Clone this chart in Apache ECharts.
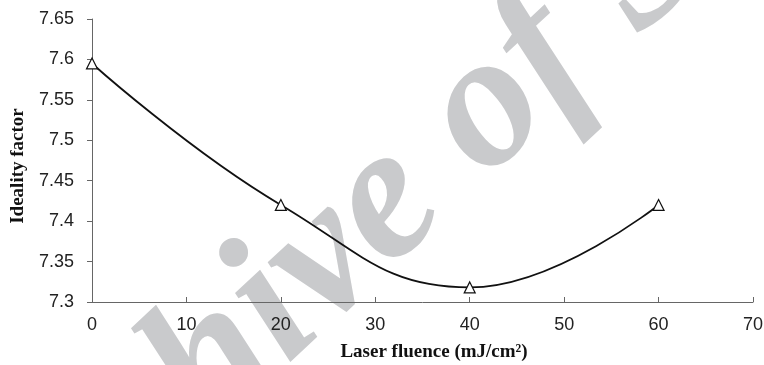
<!DOCTYPE html>
<html>
<head>
<meta charset="utf-8">
<script src="https://cdn.jsdelivr.net/npm/echarts@6/dist/echarts.min.js"></script>
<style>
  html, body { margin: 0; padding: 0; background: #fff; }
  #chart { width: 764px; height: 365px; }
</style>
</head>
<body>
<div id="chart"></div>
<script>
// laser fluence (mJ/cm2) and ideality factor
var fluence = [0, 20, 40, 60]
var ideality = [7.595, 7.42, 7.318, 7.42]

var myChart = echarts.init(document.getElementById('chart'))
var option = {
  animation: false,
  backgroundColor: '#fff',
  grid: { left: 92, right: 11, top: 19, bottom: 63, outerBoundsMode: 'none' },
  // scanned watermark behind the plot
  graphic: [{
    type: 'text',
    z: -10,
    x: -36,
    y: 598,
    rotation: 0.75,
    style: {
      text: 'Archive of SID',
      font: 'italic bold 192px "Liberation Serif"',
      fill: '#c9cacc',
      verticalAlign: 'middle'
    }
  }],
  xAxis: {
    type: 'value',
    min: 0,
    max: 70,
    interval: 10,
    name: 'Laser fluence (mJ/cm²)',
    nameLocation: 'middle',
    nameGap: 41,
    nameTextStyle: { fontFamily: 'Liberation Serif', fontWeight: 'bold', fontSize: 19, color: '#111', padding: [0, 0, 0, 23] },
    axisLine: { lineStyle: { color: '#666', width: 1 } },
    axisTick: { inside: true, length: 5, lineStyle: { color: '#666' } },
    axisLabel: { fontFamily: 'Liberation Sans', fontSize: 18, color: '#222', margin: 14 },
    splitLine: { show: false }
  },
  yAxis: {
    type: 'value',
    min: 7.3,
    max: 7.65,
    interval: 0.05,
    name: 'Ideality factor',
    nameLocation: 'middle',
    nameGap: 64,
    nameTextStyle: { fontFamily: 'Liberation Serif', fontWeight: 'bold', fontSize: 19, color: '#111', padding: [0, 11, 0, 0] },
    axisLine: { show: true, lineStyle: { color: '#666', width: 1 } },
    axisTick: { show: true, length: 5, lineStyle: { color: '#666' } },
    axisLabel: {
      fontFamily: 'Liberation Sans', fontSize: 18, color: '#222', margin: 18,
      formatter: function (v) { return String(parseFloat(v.toFixed(2))) }
    },
    splitLine: { show: false }
  },
  series: [{
    type: 'line',
    smooth: 0.45,
    data: fluence.map(function (x, i) { return [x, ideality[i]] }),
    symbol: 'triangle',
    symbolSize: 11,
    itemStyle: { color: '#fff', borderColor: '#111', borderWidth: 1.2 },
    lineStyle: { color: '#111', width: 1.8 },
    z: 5
  }]
}
myChart.setOption(option)
</script>
</body>
</html>
